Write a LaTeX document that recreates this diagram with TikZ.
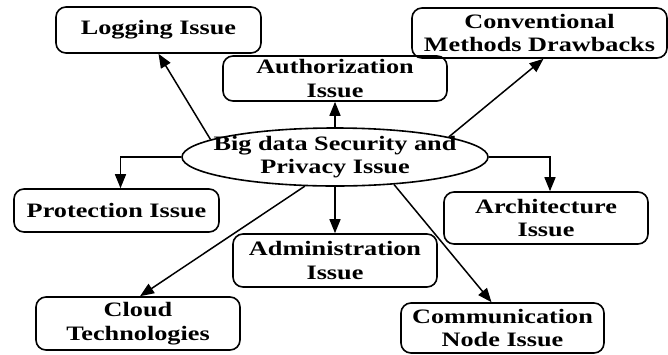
\documentclass[tikz,border=0pt]{standalone}
\usepackage{fontspec}
\setmainfont{Liberation Serif}[FakeStretch=1.28]
\usetikzlibrary{arrows.meta,shapes.geometric}
\begin{document}
\begin{tikzpicture}[x=1pt,y=-1pt,
  lbl/.style={font=\fontsize{20.5}{23.5}\selectfont\bfseries,align=center},
  box/.style={lbl,draw,line width=1.6pt,rounded corners=10pt,inner sep=0pt},
  arr/.style={line width=1.5pt,-{Triangle[length=14pt,width=11pt]}}]
\useasboundingbox (0,0) rectangle (668,354);
\node[box,minimum width=205pt,minimum height=46pt] (log) at (158.5,30) {Logging Issue};
\node[box,minimum width=224pt,minimum height=45pt] (auth) at (335,78.5) {Authorization\\Issue};
\node[box,minimum width=255pt,minimum height=50pt] (conv) at (539.5,33) {Conventional\\Methods Drawbacks};
\node[draw,ellipse,line width=1.6pt,minimum width=306pt,minimum height=58pt,inner sep=0pt] (ell) at (335,157) {};
\node[lbl,inner sep=0pt] (ellt) at (ell.center) {Big data Security and\\Privacy Issue};
\node[box,minimum width=205pt,minimum height=43pt] (prot) at (116.5,210.5) {Protection Issue};
\node[box,minimum width=204pt,minimum height=52pt] (arch) at (546,218) {Architecture\\Issue};
\node[box,minimum width=204pt,minimum height=53pt] (adm) at (335,260.5) {Administration\\Issue};
\node[box,minimum width=204pt,minimum height=53pt] (cloud) at (138,323.5) {Cloud\\Technologies};
\node[box,minimum width=203pt,minimum height=50pt] (comm) at (502.5,328) {Communication\\Node Issue};
\draw[arr] (ell.172.5) -- (log.south);
\draw[arr] (ell.north) -- (auth.south);
\draw[arr] (ell.10.6) -- ([xshift=4pt]conv.south);
\draw[arr] (ell.west) -| ([xshift=4pt]prot.north);
\draw[arr] (ell.east) -| ([xshift=4pt]arch.north);
\draw[arr] (ell.south) -- (adm.north);
\draw[arr] (ell.224) -- ([xshift=2pt]cloud.north);
\draw[arr] (ell.335.7) -- ([xshift=-11pt]comm.north);
\end{tikzpicture}
\end{document}
